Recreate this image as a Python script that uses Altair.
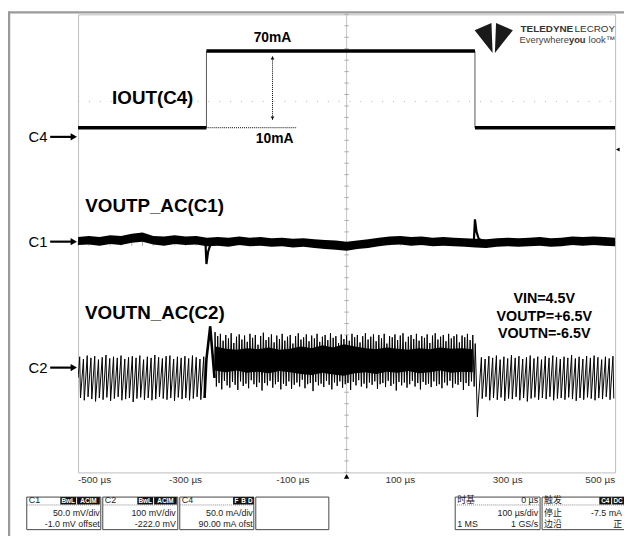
import altair as alt
import pandas as pd

# ---------------- data: time in µs, level in screen divisions ----------------
x_grid = [-500, -400, -300, -200, -100, 0, 100, 200, 300, 400, 500]
y_grid = [-4, -3, -2, -1, 0, 1, 2, 3, 4]
x_label_t = [-500, -300, -100, 100, 300, 500]
x_label_s = ["-500 µs", "-300 µs", "-100 µs", "100 µs", "300 µs", "500 µs"]

# C4 = IOUT (50 mA/div): low 10 mA, high 70 mA
c4_seg_t0 = [-500, -261, 239]
c4_seg_t1 = [-261, 239, 500]
c4_seg_v = [2.02, 3.36, 2.02]
c4_edge_t = [-261, 239]
c4_edge_lo = [2.02, 2.02]
c4_edge_hi = [3.36, 3.36]

# C1 = VOUTP_AC noise band
c1_t = [-500, -480, -460, -440, -420, -400, -380, -360, -340, -320,
        -300, -280, -260, -240, -220, -200, -180, -160, -140, -120,
        -100, -80, -60, -40, -20, 0, 20, 40, 60, 80,
        100, 120, 140, 160, 180, 200, 220, 240, 260, 280,
        300, 320, 340, 360, 380, 400, 420, 440, 460, 480, 500]
c1_hi = [0.11, 0.13, 0.11, 0.14, 0.13, 0.17, 0.19, 0.13, 0.12, 0.14,
         0.12, 0.13, 0.10, 0.11, 0.10, 0.12, 0.10, 0.11, 0.09, 0.10,
         0.08, 0.09, 0.07, 0.06, 0.05, 0.03, 0.05, 0.07, 0.10, 0.12,
         0.13, 0.11, 0.12, 0.10, 0.11, 0.10, 0.09, 0.08, 0.07, 0.09,
         0.10, 0.09, 0.10, 0.11, 0.09, 0.10, 0.12, 0.11, 0.12, 0.11, 0.10]
c1_lo = [-0.03, -0.02, -0.04, -0.01, -0.03, 0.01, 0.03, -0.02, -0.04, -0.01,
         -0.03, -0.02, -0.05, -0.04, -0.06, -0.03, -0.05, -0.04, -0.06, -0.05,
         -0.07, -0.06, -0.08, -0.10, -0.11, -0.13, -0.10, -0.08, -0.05, -0.03,
         -0.02, -0.04, -0.03, -0.05, -0.04, -0.05, -0.06, -0.07, -0.08, -0.06,
         -0.05, -0.06, -0.05, -0.04, -0.06, -0.05, -0.03, -0.04, -0.03, -0.04, -0.05]
c1_spike_g = ["on", "on", "on", "on", "on", "off", "off", "off", "off", "off"]
c1_spike_t = [-263, -261, -258, -254, -248, 237, 239, 242, 246, 252]
c1_spike_v = [0.05, -0.36, -0.15, -0.03, 0.03, 0.05, 0.42, 0.20, 0.08, 0.05]

# C2 = VOUTN_AC: sawtooth before/after, burst during the load step
c2_left_pk_t = [-497, -490, -483, -476, -469, -462, -455, -448, -441, -434,
                -427, -420, -413, -406, -399, -392, -385, -378, -371, -364,
                -357, -350, -343, -336, -329, -322, -315, -308, -301, -294,
                -287, -280, -273, -266]
c2_left_pk_v = [-1.98, -2.02, -1.96, -2.00, -1.97, -2.03, -1.99, -1.95, -2.01, -1.98,
                -2.00, -1.96, -2.02, -1.99, -1.97, -2.00, -1.96, -2.03, -1.98, -2.00,
                -1.95, -1.99, -2.01, -1.97, -1.96, -2.02, -1.98, -2.00, -1.97, -2.01,
                -1.96, -1.99, -2.02, -1.98]
c2_left_tr_v = [-2.70, -2.74, -2.68, -2.72, -2.76, -2.70, -2.73, -2.69, -2.75, -2.71,
                -2.68, -2.74, -2.72, -2.70, -2.77, -2.71, -2.69, -2.73, -2.70, -2.74,
                -2.72, -2.68, -2.71, -2.73, -2.70, -2.75, -2.69, -2.72, -2.70, -2.74,
                -2.71, -2.68, -2.73, -2.70]
c2_spike_t = [-264.5, -261, -254, -250, -246]
c2_spike_v = [-2.70, -2.02, -1.45, -1.90, -2.35]
c2_burst_t0 = -245
c2_burst_step = 5
c2_burst_hi = [-1.55, -1.62, -1.58, -1.70, -1.60, -1.66, -1.57, -1.74, -1.63, -1.59,
               -1.68, -1.61, -1.72, -1.58, -1.65, -1.60, -1.77, -1.62, -1.56, -1.69,
               -1.64, -1.59, -1.73, -1.61, -1.67, -1.58, -1.70, -1.63, -1.60, -1.75,
               -1.62, -1.57, -1.68, -1.64, -1.59, -1.71, -1.61, -1.66, -1.58, -1.72,
               -1.63, -1.60, -1.69, -1.57, -1.65, -1.62, -1.74, -1.59, -1.67, -1.61,
               -1.70, -1.58, -1.64, -1.60, -1.73, -1.62, -1.57, -1.68, -1.63, -1.59,
               -1.71, -1.60, -1.66, -1.58, -1.75, -1.62, -1.64, -1.59, -1.69, -1.61,
               -1.57, -1.72, -1.63, -1.60, -1.67, -1.58, -1.70, -1.62, -1.65, -1.59,
               -1.74, -1.61, -1.57, -1.68, -1.63, -1.60, -1.71, -1.58, -1.66, -1.62,
               -1.59, -1.73, -1.61, -1.64, -1.58, -1.69, -1.60]
c2_burst_lo = [-2.50, -2.44, -2.55, -2.40, -2.48, -2.52, -2.42, -2.47, -2.56, -2.41,
               -2.49, -2.45, -2.53, -2.39, -2.46, -2.51, -2.43, -2.57, -2.44, -2.48,
               -2.40, -2.52, -2.46, -2.42, -2.55, -2.45, -2.49, -2.41, -2.54, -2.47,
               -2.43, -2.50, -2.38, -2.53, -2.46, -2.44, -2.58, -2.42, -2.48, -2.45,
               -2.51, -2.40, -2.47, -2.55, -2.43, -2.49, -2.41, -2.52, -2.46, -2.44,
               -2.56, -2.42, -2.48, -2.39, -2.50, -2.45, -2.53, -2.43, -2.47, -2.41,
               -2.54, -2.46, -2.44, -2.51, -2.40, -2.49, -2.45, -2.57, -2.42, -2.48,
               -2.43, -2.52, -2.46, -2.40, -2.50, -2.44, -2.55, -2.42, -2.47, -2.45,
               -2.51, -2.41, -2.49, -2.46, -2.53, -2.43, -2.48, -2.40, -2.52, -2.45,
               -2.47, -2.42, -2.56, -2.44, -2.49, -2.41, -2.50]
c2_core_t = [-245, -225, -205, -185, -165, -145, -125, -105, -85, -65, -45, -25, -5,
             15, 35, 55, 75, 95, 115, 135, 155, 175, 195, 215, 235]
c2_core_hi = [-1.80, -1.84, -1.86, -1.83, -1.85, -1.82, -1.86, -1.84, -1.80, -1.83, -1.78, -1.82, -1.76,
              -1.80, -1.83, -1.85, -1.82, -1.84, -1.86, -1.83, -1.85, -1.82, -1.84, -1.83, -1.85]
c2_core_lo = [-2.22, -2.25, -2.22, -2.26, -2.24, -2.27, -2.23, -2.25, -2.28, -2.30, -2.26, -2.29, -2.31,
              -2.27, -2.25, -2.28, -2.24, -2.26, -2.23, -2.27, -2.25, -2.22, -2.26, -2.24, -2.25]
c2_end_t = [239.5, 243.5]
c2_end_v = [-1.75, -3.03]
c2_right_pk_t = [251, 258, 265, 272, 279, 286, 293, 300, 307, 314,
                 321, 328, 335, 342, 349, 356, 363, 370, 377, 384,
                 391, 398, 405, 412, 419, 426, 433, 440, 447, 454,
                 461, 468, 475, 482, 489, 496]
c2_right_pk_v = [-1.99, -2.02, -1.97, -2.00, -1.96, -2.03, -1.98, -2.01, -1.95, -2.00,
                 -1.97, -2.02, -1.99, -1.96, -2.01, -1.98, -2.03, -1.97, -2.00, -1.96,
                 -1.99, -2.02, -1.98, -2.00, -1.95, -2.01, -1.98, -2.02, -1.97, -2.00,
                 -1.96, -1.99, -2.03, -1.98, -2.01, -1.97]
c2_right_tr_v = [-2.71, -2.68, -2.74, -2.70, -2.73, -2.69, -2.75, -2.71, -2.72, -2.68,
                 -2.74, -2.70, -2.76, -2.71, -2.69, -2.73, -2.70, -2.72, -2.68, -2.74,
                 -2.71, -2.70, -2.73, -2.69, -2.72, -2.75, -2.70, -2.73, -2.69, -2.71,
                 -2.74, -2.70, -2.72, -2.68, -2.73, -2.71]

# annotations
big_text = ["IOUT(C4)", "VOUTP_AC(C1)", "VOUTN_AC(C2)"]
big_t = [-361, -357.5, -357]
big_v = [2.53, 0.655, -1.21]
amp_text = ["70mA", "10mA"]
amp_t = [-138, -134]
amp_v = [3.59, 1.83]
cond_text = ["VIN=4.5V", "VOUTP=+6.5V", "VOUTN=-6.5V"]
cond_t = [368, 368, 368]
cond_v = [-0.98, -1.29, -1.59]
ch_text = ["C4", "C1", "C2"]
ch_v = [1.86, 0.03, -2.17]

# bottom info boxes (screen pixels)
box_x0 = [27, 104, 182, 259, 461, 549]
box_x1 = [102, 180, 257, 333, 547, 640]
box_sep = [1, 1, 1, 0, 1, 1]
badge_text = ["BwL", "ACIM", "BwL", "ACIM", "F", "B", "D", "C4", "DC"]
badge_x0 = [61, 78, 139, 156, 236, 243, 250, 607, 620]
badge_x1 = [77, 101, 155, 179, 243, 250, 257, 619, 632]
info_left_text = ["C1", "C2", "C4", "时基", "1 MS", "触发", "停止", "边沿"]
info_left_x = [29, 106, 184, 463, 463, 551, 551, 551]
info_left_y = [503, 503, 503, 503, 527, 503, 516, 527]
info_right_text = ["50.0 mV/div", "-1.0 mV offset", "100 mV/div", "-222.0 mV",
                   "50.0 mA/div", "90.00 mA ofst", "0 µs", "100 µs/div", "1 GS/s",
                   "-7.5 mA", "正"]
info_right_x = [101, 101, 178, 178, 256, 256, 545, 545, 545, 630, 630]
info_right_y = [516, 527, 516, 527, 516, 527, 503, 516, 527, 516, 527]

# ---------------- chart ----------------
OX, OY = 79, 11          # plot origin on the page
W, H = 544, 464
FONT = "Liberation Sans"
XS = alt.Scale(domain=[-500, 500], nice=False, zero=False)
YS = alt.Scale(domain=[-4, 4], nice=False, zero=False)


def X(f):
    return alt.X(f, type="quantitative", scale=XS, axis=None)


def Y(f):
    return alt.Y(f, type="quantitative", scale=YS, axis=None)


def PX(f):
    return alt.X(f, type="quantitative", scale=None, axis=None)


def PY(f):
    return alt.Y(f, type="quantitative", scale=None, axis=None)


# grid (axes without labels)
grid_layer = alt.Chart(pd.DataFrame({"t": [0], "v": [0]})).mark_point(opacity=0).encode(
    x=alt.X("t:Q", scale=XS, axis=alt.Axis(
        values=x_grid, grid=True, gridColor="#c4c4c4", gridDash=[2, 2], gridWidth=1,
        ticks=False, domain=False, labels=False, title=None)),
    y=alt.Y("v:Q", scale=YS, axis=alt.Axis(
        values=y_grid, grid=True, gridColor="#c4c4c4", gridDash=[2, 2], gridWidth=1,
        ticks=False, domain=False, labels=False, title=None)),
)

# time labels under the graticule
xl = pd.DataFrame({"t": x_label_t, "s": x_label_s})
x_labels = alt.layer(*[
    alt.Chart(xl.iloc[sl]).mark_text(font=FONT, fontSize=10, color="#333", align=al,
                                     baseline="middle").encode(x=X("t"), y=alt.value(H + 8), text="s:N")
    for sl, al in [(slice(0, 1), "left"), (slice(1, 5), "center"), (slice(5, 6), "right")]
])

# centre cross with minor ticks
minor_v = [round(-4 + 0.2 * i, 2) for i in range(41)]
minor_t = [-500 + 20 * i for i in range(51)]
cross = alt.layer(
    alt.Chart(pd.DataFrame({"t": [0]})).mark_rule(color="#c4c4c4", strokeWidth=1).encode(
        x=X("t"), y=alt.value(0), y2=alt.value(H)),
    alt.Chart(pd.DataFrame({"v": minor_v, "a": -4, "b": 4})).mark_rule(color="#aaa").encode(
        x=X("a"), x2="b", y=Y("v")),
    alt.Chart(pd.DataFrame({"t": minor_t, "a": -0.04, "b": 0.04})).mark_rule(color="#aaa").encode(
        x=X("t"), y=Y("a"), y2="b"),
)

sparse = alt.Chart(pd.DataFrame({"v": [2.48], "a": [-500], "b": [500]})).mark_rule(
    color="#b0b0b0", strokeDash=[1, 10]).encode(x=X("a"), x2="b", y=Y("v"))

# C4 trace
c4_levels = alt.Chart(pd.DataFrame({"a": c4_seg_t0, "b": c4_seg_t1, "v": c4_seg_v})).mark_rule(
    color="black", strokeWidth=3.6).encode(x=X("a"), x2="b", y=Y("v"))
c4_edges = alt.Chart(pd.DataFrame({"t": c4_edge_t, "lo": c4_edge_lo, "hi": c4_edge_hi})).mark_rule(
    color="#555", strokeWidth=1).encode(x=X("t"), y=Y("lo"), y2="hi")
c4_ref = alt.Chart(pd.DataFrame({"a": [-261], "b": [-94], "v": [2.02]})).mark_rule(
    color="black", strokeDash=[1, 1], strokeWidth=1).encode(x=X("a"), x2="b", y=Y("v"))
amp_arrow = alt.layer(
    alt.Chart(pd.DataFrame({"t": [-138], "a": [2.16], "b": [3.27]})).mark_rule(
        color="black", strokeDash=[1, 1]).encode(x=X("t"), y=Y("a"), y2="b"),
    alt.Chart(pd.DataFrame({"t": [-138], "v": [3.24]})).mark_point(
        shape="triangle-up", filled=True, color="black", size=14, opacity=1).encode(x=X("t"), y=Y("v")),
    alt.Chart(pd.DataFrame({"t": [-138], "v": [2.19]})).mark_point(
        shape="triangle-down", filled=True, color="black", size=14, opacity=1).encode(x=X("t"), y=Y("v")),
)

# C1 trace
c1_band = alt.Chart(pd.DataFrame({"t": c1_t, "hi": c1_hi, "lo": c1_lo})).mark_area(
    color="black", opacity=1).encode(x=X("t"), y=Y("hi"), y2="lo")
c1_spikes = alt.Chart(pd.DataFrame({"g": c1_spike_g, "t": c1_spike_t, "v": c1_spike_v,
                                    "i": list(range(len(c1_spike_t)))})).mark_line(
    color="black", strokeWidth=2.2).encode(x=X("t"), y=Y("v"), detail="g:N", order="i:Q")

# C2 trace (assembled from the listed vertices)
c2_t, c2_v = [-500], [-2.35]
for p, pv, tv in zip(c2_left_pk_t, c2_left_pk_v, c2_left_tr_v):
    c2_t += [p, p + 1.5]
    c2_v += [pv, tv]
c2_t += c2_spike_t[1:]
c2_v += c2_spike_v[1:]
for k, (hv, lv) in enumerate(zip(c2_burst_hi, c2_burst_lo)):
    t0 = c2_burst_t0 + c2_burst_step * k
    c2_t += [t0, t0 + c2_burst_step / 2]
    c2_v += [hv, lv]
c2_t += c2_end_t
c2_v += c2_end_v
for p, pv, tv in zip(c2_right_pk_t, c2_right_pk_v, c2_right_tr_v):
    c2_t += [p, p + 1.5]
    c2_v += [pv, tv]

c2_line = alt.Chart(pd.DataFrame({"t": c2_t, "v": c2_v, "i": list(range(len(c2_t)))})).mark_line(
    color="black", strokeWidth=1, clip=True).encode(x=X("t"), y=Y("v"), order="i:Q")
c2_core = alt.Chart(pd.DataFrame({"t": c2_core_t, "hi": c2_core_hi, "lo": c2_core_lo})).mark_area(
    color="black", opacity=1).encode(x=X("t"), y=Y("hi"), y2="lo")
c2_spike = alt.Chart(pd.DataFrame({"t": c2_spike_t, "v": c2_spike_v, "i": list(range(5))})).mark_line(
    color="black", strokeWidth=2.6).encode(x=X("t"), y=Y("v"), order="i:Q")

# annotations
big = alt.Chart(pd.DataFrame({"t": big_t, "v": big_v, "s": big_text})).mark_text(
    font=FONT, fontWeight="bold", fontSize=19, color="black").encode(x=X("t"), y=Y("v"), text="s:N")
amp = alt.Chart(pd.DataFrame({"t": amp_t, "v": amp_v, "s": amp_text})).mark_text(
    font=FONT, fontWeight="bold", fontSize=14, color="black").encode(x=X("t"), y=Y("v"), text="s:N")
cond = alt.Chart(pd.DataFrame({"t": cond_t, "v": cond_v, "s": cond_text})).mark_text(
    font=FONT, fontWeight="bold", fontSize=14.5, color="black").encode(x=X("t"), y=Y("v"), text="s:N")

# channel markers on the left
ch_df = pd.DataFrame({"v": ch_v, "s": ch_text, "t": -557, "a": -552, "b": -511, "h": -508})
ch_lab = alt.layer(
    alt.Chart(ch_df).mark_text(font=FONT, fontSize=15, align="right", color="black").encode(
        x=X("t"), y=Y("v"), text="s:N"),
    alt.Chart(ch_df).mark_rule(color="black", strokeWidth=2.2).encode(x=X("a"), x2="b", y=Y("v")),
    alt.Chart(ch_df).mark_point(shape="triangle-right", filled=True, color="black", size=55, opacity=1).encode(
        x=X("h"), y=Y("v")),
)

# trigger markers
trig = alt.layer(
    alt.Chart(pd.DataFrame({"t": [0]})).mark_point(shape="triangle-up", filled=True, color="black",
                                                   size=30, opacity=1).encode(x=X("t"), y=alt.value(H + 4)),
    alt.Chart(pd.DataFrame({"t": [505], "v": [1.64]})).mark_point(shape="triangle-left", filled=True,
                                                                  color="black", size=18, opacity=1).encode(
        x=X("t"), y=Y("v")),
)

# logo
logo_path = ("M -1 -0.25 L -0.12 -0.62 L -0.06 0.95 Z "
             "M 1 -0.25 L 0.12 -0.62 L 0.06 0.95 Z")
logo = alt.layer(
    alt.Chart(pd.DataFrame({"t": [274], "v": [3.64]})).mark_point(
        shape=logo_path, filled=True, color="#1a1a1a", size=1500, opacity=1).encode(x=X("t"), y=Y("v")),
    alt.Chart(pd.DataFrame({"t": [324], "v": [3.75], "s": ["TELEDYNE"]})).mark_text(
        font=FONT, fontWeight="bold", fontSize=10, align="left", color="#333").encode(
        x=X("t"), y=Y("v"), text="s:N"),
    alt.Chart(pd.DataFrame({"t": [500], "v": [3.75], "s": ["LECROY"]})).mark_text(
        font=FONT, fontSize=10, align="right", color="#333").encode(x=X("t"), y=Y("v"), text="s:N"),
    alt.Chart(pd.DataFrame({"t": [500, 414], "v": [3.55, 3.55], "s": ["look™", "Everywhere"]}))
    .mark_text(font=FONT, fontSize=9.5, align="right", color="#444").encode(
        x=X("t"), y=Y("v"), text="s:N"),
    alt.Chart(pd.DataFrame({"t": [445], "v": [3.55], "s": ["you"]}))
    .mark_text(font=FONT, fontSize=9.5, fontWeight="bold", align="right", color="#333").encode(
        x=X("t"), y=Y("v"), text="s:N"),
)

# frame of the screenshot
frame = alt.layer(
    alt.Chart(pd.DataFrame({"a": [0]})).mark_rule(color="#9a9a9a", strokeWidth=2.5).encode(
        x=alt.value(-OX + 8), x2=alt.value(W + 20), y=alt.value(-2)),
    alt.Chart(pd.DataFrame({"a": [0]})).mark_rule(color="#9a9a9a", strokeWidth=2.5).encode(
        x=alt.value(-OX + 9), y=alt.value(-3), y2=alt.value(H + 80)),
)

# info boxes
bx = pd.DataFrame({"x0": [v - OX for v in box_x0], "x1": [v - OX for v in box_x1],
                   "y0": 500 - OY, "y1": 533 - OY, "sep": box_sep})
boxes = alt.layer(
    alt.Chart(bx).mark_rect(fill="white", stroke="#444", strokeWidth=1).encode(
        x=PX("x0"), x2="x1", y=PY("y0"), y2="y1"),
    alt.Chart(bx[bx["sep"] == 1]).mark_rule(color="#888", strokeDash=[1, 1]).encode(
        x=PX("x0"), x2="x1", y=alt.value(508 - OY)),
)
bd = pd.DataFrame({"x0": [v - OX for v in badge_x0], "x1": [v - OX for v in badge_x1],
                   "xm": [(a + b) / 2 - OX for a, b in zip(badge_x0, badge_x1)], "s": badge_text})
badges = alt.layer(
    alt.Chart(bd).mark_rect(fill="#111").encode(x=PX("x0"), x2="x1", y=alt.value(500 - OY),
                                                y2=alt.value(507.5 - OY)),
    alt.Chart(bd).mark_text(font=FONT, fontWeight="bold", fontSize=6.5, color="white").encode(
        x=PX("xm"), y=alt.value(504 - OY), text="s:N"),
)
il = pd.DataFrame({"x": [v - OX for v in info_left_x], "y": [v - OY for v in info_left_y],
                   "s": info_left_text})
ir = pd.DataFrame({"x": [v - OX for v in info_right_x], "y": [v - OY for v in info_right_y],
                   "s": info_right_text})
info = alt.layer(
    alt.Chart(il).mark_text(font="Liberation Sans, Noto Sans CJK SC", fontSize=9, align="left",
                            color="#222").encode(x=PX("x"), y=PY("y"), text="s:N"),
    alt.Chart(ir).mark_text(font="Liberation Sans, Noto Sans CJK SC", fontSize=9, align="right",
                            color="#222").encode(x=PX("x"), y=PY("y"), text="s:N"),
)

chart = alt.layer(
    grid_layer, cross, sparse,
    c2_core, c2_line, c2_spike,
    c1_band, c1_spikes,
    c4_ref, c4_edges, c4_levels, amp_arrow,
    big, amp, cond, ch_lab, trig, logo, x_labels,
    frame, boxes, badges, info,
).properties(
    width=W, height=H,
    autosize=alt.AutoSizeParams(type="none"),
    padding={"left": OX - 8, "top": OY - 8, "right": 9, "bottom": 61},
    background="white",
).configure_view(stroke="#bdbdbd", strokeWidth=1)

chart.save("out.html", embed_options={"renderer": "svg", "actions": False})
